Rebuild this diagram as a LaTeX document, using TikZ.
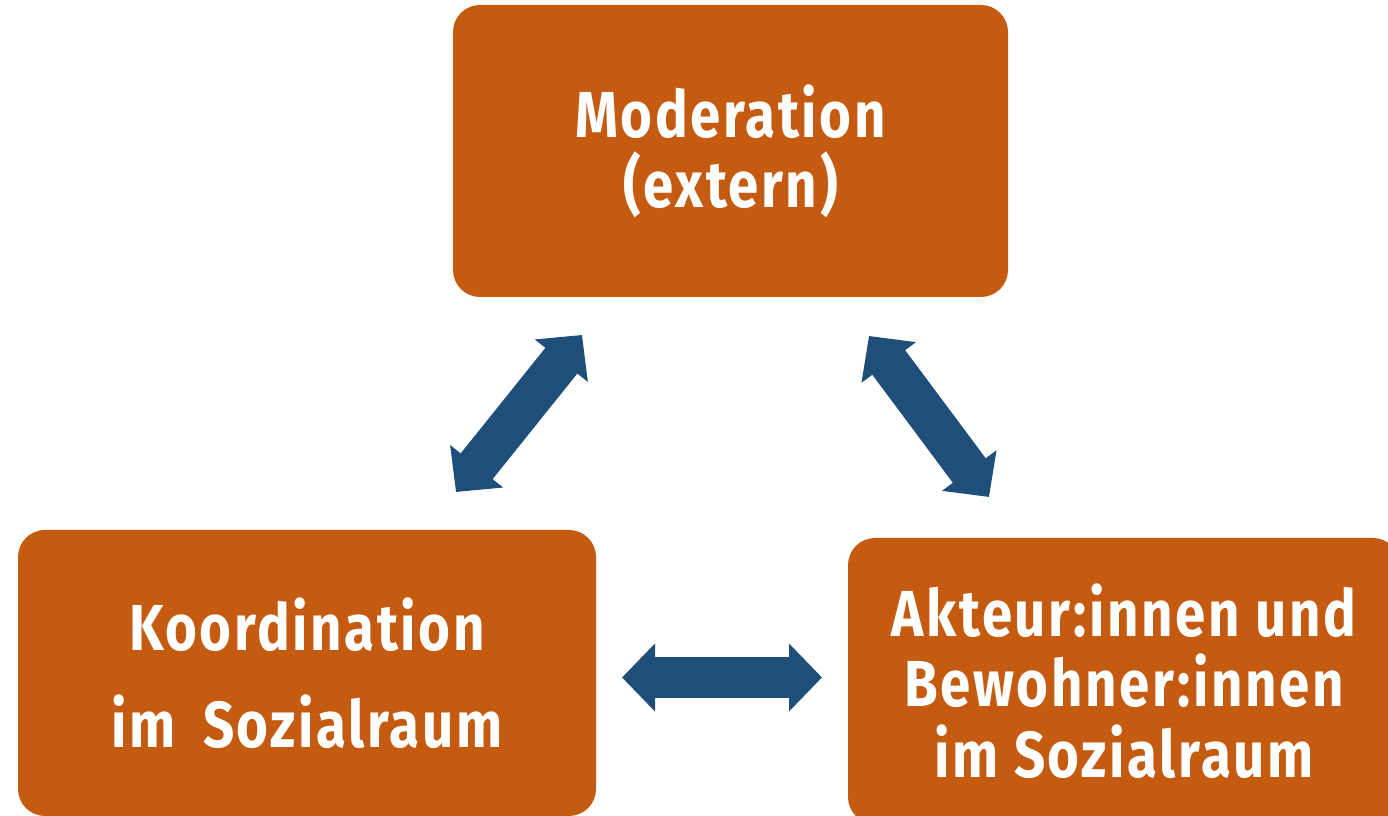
\documentclass[tikz,border=0pt]{standalone}
\usepackage{fontspec}
\setmainfont{Fira Sans}[FakeStretch=0.84,LetterSpace=4]
\usetikzlibrary{arrows.meta}

\definecolor{boxorange}{HTML}{C55A11}
\definecolor{arrowblue}{HTML}{1F4E79}

\tikzset{
	box/.style={fill=boxorange,rounded corners=0.54cm,text=white,align=center,
		font=\bfseries\fontsize{37}{40}\selectfont,inner sep=0pt},
	blockarrow/.style={draw=arrowblue,line width=0.82cm,
		{Triangle[length=0.66cm,width=1.32cm]}-{Triangle[length=0.66cm,width=1.32cm]}}
}

\begin{document}
\begin{tikzpicture}
	\useasboundingbox (0,0) rectangle (27.76,16.32);
	\clip (0,0) rectangle (27.76,16.32);

	%boxes
	\node[box,minimum width=11.1cm,minimum height=5.84cm] (moder) at (14.61,13.30)
		{Moderation\\(extern)}; %top
	\node[box,minimum width=11.56cm,minimum height=5.72cm,
		font=\bfseries\fontsize{37}{55.2}\selectfont] (koord) at (6.14,2.86)
		{Koordination\\im\hspace{0.55cm}Sozialraum}; %left
	\node[box,minimum width=11.04cm,minimum height=5.72cm] (akteur) at (22.48,2.70)
		{Akteur:innen und\\Bewohner:innen\\im Sozialraum}; %right

	%arrow ends
	\coordinate (ml) at (11.64,9.62);
	\coordinate (km) at (9.12,6.48);
	\coordinate (mr) at (17.38,9.60);
	\coordinate (am) at (19.78,6.38);
	\coordinate (ka) at (12.44,2.77);
	\coordinate (ak) at (16.44,2.77);

	%arrows
	\draw[blockarrow] (km) -- (ml); %Koordination - Moderation
	\draw[blockarrow] (mr) -- (am); %Moderation - Akteure
	\draw[blockarrow] (ka) -- (ak); %Koordination - Akteure

\end{tikzpicture}
\end{document}
